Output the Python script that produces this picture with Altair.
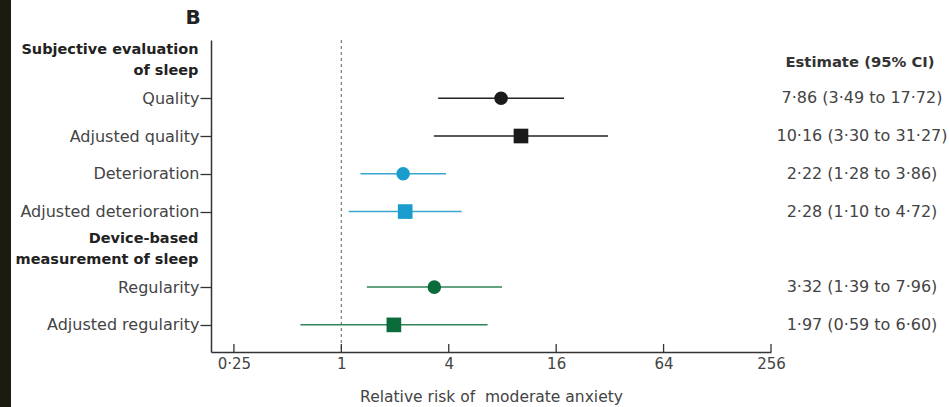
import altair as alt
import pandas as pd

# ---- data ----
rows = ["Subjective evaluation|of sleep", "Quality", "Adjusted quality", "Deterioration",
        "Adjusted deterioration", "Device-based|measurement of sleep", "Regularity",
        "Adjusted regularity"]
headers = ["Subjective evaluation|of sleep", "Device-based|measurement of sleep"]
labels = ["Quality", "Adjusted quality", "Deterioration", "Adjusted deterioration",
          "Regularity", "Adjusted regularity"]
estimates = [7.86, 10.16, 2.22, 2.28, 3.32, 1.97]
lower = [3.49, 3.30, 1.28, 1.10, 1.39, 0.59]
upper = [17.72, 31.27, 3.86, 4.72, 7.96, 6.60]
groups = ["Quality", "Quality", "Deterioration", "Deterioration", "Regularity", "Regularity"]
kinds = ["Unadjusted", "Adjusted", "Unadjusted", "Adjusted", "Unadjusted", "Adjusted"]
x_ticks = [0.25, 1, 4, 16, 64, 256]


def dot(v):
    return f"{v:.2f}".replace(".", "·")


df = pd.DataFrame({
    "label": labels, "est": estimates, "lo": lower, "hi": upper,
    "group": groups, "kind": kinds,
    "ci": [f"{dot(e)} ({dot(l)} to {dot(h)})" for e, l, h in zip(estimates, lower, upper)],
})

W, H = 560, 312
PAD = {"left": 211, "top": 40, "right": 949 - 211 - W, "bottom": 407 - 40 - H}
FONT = "DejaVu Sans"
FS = 16
hdr_expr = "indexof(" + str(headers) + ", datum.value) >= 0"

y_enc = alt.Y(
    "label:N",
    scale=alt.Scale(type="point", domain=rows, padding=0.63, align=0.43),
    axis=alt.Axis(
        title=None,
        labelExpr="split(datum.value, '|')",
        labelFont=FONT, labelLineHeight=21,
        labelFontSize={"expr": hdr_expr + " ? 14.5 : 16"},
        labelFontWeight={"expr": hdr_expr + " ? 'bold' : 'normal'"},
        labelColor={"expr": hdr_expr + " ? '#222222' : '#444444'"},
        labelOffset={"expr": hdr_expr + " ? -10.5 : 0"},
        labelPadding={"expr": hdr_expr + " ? 2 : 1"},
        tickOpacity={"expr": hdr_expr + " ? 0 : 1"},
        tickSize=11, tickColor="#333333", tickWidth=1.3,
        domainColor="#333333", domainWidth=1.5,
        labelBound=False, labelOverlap=False, labelLimit=300,
    ),
)

x_scale = alt.Scale(type="log", base=2, domain=[0.186, 256], nice=False)
x_axis = alt.Axis(
    title="Relative risk of \u00a0moderate anxiety",
    values=x_ticks, tickSize=0,
    labelExpr="replace(toString(datum.value), '.', '·')",
    labelFont=FONT, labelFontSize=15, labelColor="#444444", labelPadding=4,
    titleFont=FONT, titleFontSize=15.5, titleFontWeight="normal", titleColor="#444444",
    titlePadding=18, domainColor="#333333", domainWidth=1.5, grid=False,
    labelFlush=False,
)

color_dom = ["Quality", "Deterioration", "Regularity"]
marker_colors = ["#1a1a1a", "#1a9dcc", "#0b6b3a"]
line_colors = ["#222222", "#3aa6d2", "#2f8457"]

base = alt.Chart(df)

ci = base.mark_rule(strokeWidth=1.5).encode(
    x=alt.X("lo:Q", scale=x_scale, axis=x_axis),
    x2="hi:Q",
    y=y_enc,
    color=alt.Color("group:N", scale=alt.Scale(domain=color_dom, range=line_colors), legend=None),
)

pts = base.mark_point(filled=True, opacity=1, strokeWidth=0).encode(
    x=alt.X("est:Q", scale=x_scale),
    y=alt.Y("label:N"),
    color=alt.Color("group:N", scale=alt.Scale(domain=color_dom, range=marker_colors), legend=None),
    shape=alt.Shape("kind:N", scale=alt.Scale(domain=["Unadjusted", "Adjusted"],
                                               range=["circle", "square"]), legend=None),
    size=alt.Size("kind:N", scale=alt.Scale(domain=["Unadjusted", "Adjusted"],
                                             range=[185, 215]), legend=None),
)

ref = alt.Chart(pd.DataFrame({"v": [1]})).mark_rule(
    color="#777777", strokeDash=[3, 3], strokeWidth=1.2
).encode(x=alt.X("v:Q", scale=x_scale))

xt = alt.Chart(pd.DataFrame({"t": x_ticks})).mark_rule(color="#333333", strokeWidth=1.3).encode(
    x=alt.X("t:Q", scale=x_scale), y=alt.value(H - 8), y2=alt.value(H)
)

ci_text = base.mark_text(font=FONT, fontSize=FS, color="#444444", align="center").encode(
    x=alt.value(651), y=alt.Y("label:N"), text="ci:N"
)

ci_head = alt.Chart(pd.DataFrame({"label": [rows[0]], "t": ["Estimate (95% CI)"]})).mark_text(
    font=FONT, fontSize=14.8, fontWeight="bold", color="#333333", align="center", dy=3
).encode(x=alt.value(649), y=alt.Y("label:N"), text="t:N")

panel = alt.Chart(pd.DataFrame({"t": ["B"]})).mark_text(
    font=FONT, fontSize=20, fontWeight="bold", color="#222222", align="center",
    baseline="alphabetic"
).encode(x=alt.value(-18), y=alt.value(-16), text="t:N")

strip = alt.Chart(pd.DataFrame({"a": [0]})).mark_rect(color="#1c1b12").encode(
    x=alt.value(-211), x2=alt.value(-200), y=alt.value(-40), y2=alt.value(367)
)

chart = alt.layer(strip, ref, ci, pts, xt, ci_text, ci_head, panel).resolve_scale(
    color="independent"
).properties(
    width=W, height=H, padding=PAD, background="white",
    autosize=alt.AutoSizeParams(type="none"),
).configure_view(stroke=None)

chart.save("out.html", embed_options={"renderer": "svg", "actions": False})
